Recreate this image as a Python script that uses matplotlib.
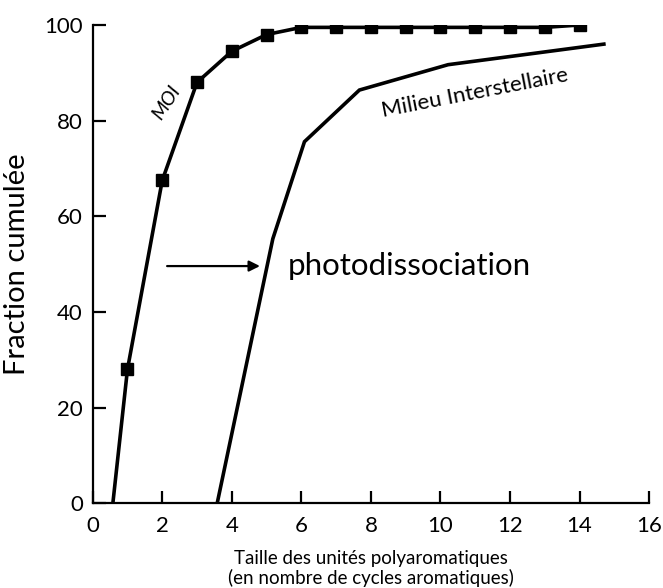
import matplotlib
matplotlib.use("Agg")
import matplotlib.pyplot as plt

plt.rcParams['font.family'] = ['Lato', 'DejaVu Sans']

# MOI series (with square markers)
moi_x = [0.58, 1, 2, 3, 4, 5, 6, 7, 8, 9, 10, 11, 12, 13, 14]
moi_y = [0, 28, 67.5, 88, 94.5, 98, 99.5, 99.5, 99.5, 99.5, 99.5, 99.5, 99.5, 99.5, 100]
moi_marked = [False] + [True] * 14

# Milieu Interstellaire series
ism_x = [3.58, 5.18, 6.09, 7.67, 10.22, 14.7]
ism_y = [0, 55.3, 75.6, 86.4, 91.7, 96]

xticks = [0, 2, 4, 6, 8, 10, 12, 14, 16]
yticks = [0, 20, 40, 60, 80, 100]

fig = plt.figure(figsize=(6.63, 5.88), dpi=100)
ax = fig.add_axes([0.1398, 0.144, 0.979 - 0.1398, 0.9575 - 0.144])

ax.plot(moi_x, moi_y, color='black', lw=2.6, solid_joinstyle='miter')
mx = [x for x, m in zip(moi_x, moi_marked) if m]
my = [y for y, m in zip(moi_y, moi_marked) if m]
ax.plot(mx, my, ls='none', marker='s', ms=9, color='black')
ax.plot(ism_x, ism_y, color='black', lw=2.6, solid_joinstyle='miter')

ax.set_xlim(0, 16)
ax.set_ylim(0, 100)
ax.set_xticks(xticks)
ax.set_yticks(yticks)
for s in ['top', 'right']:
    ax.spines[s].set_visible(False)
for s in ['left', 'bottom']:
    ax.spines[s].set_linewidth(1.6)
ax.tick_params(axis='both', direction='in', length=9, width=1.6, labelsize=16)
ax.tick_params(axis='y', pad=7)
ax.tick_params(axis='x', pad=9)

ax.set_ylabel('Fraction cumulée', fontsize=21, labelpad=10)
ax.set_xlabel('Taille des unités polyaromatiques\n(en nombre de cycles aromatiques)',
              fontsize=13.5, labelpad=10, linespacing=1.15)

ax.text(2.11, 83.8, 'MOI', rotation=57, fontsize=14, style='italic',
        ha='center', va='center', rotation_mode='anchor')
ax.text(10.99, 85.8, 'Milieu Interstellaire', rotation=11, fontsize=16,
        ha='center', va='center', rotation_mode='anchor')
ax.text(5.6, 49.6, 'photodissociation', fontsize=22.5, ha='left', va='center')
ax.annotate('', xy=(4.81, 49.6), xytext=(2.14, 49.6),
            arrowprops=dict(arrowstyle='-|>', color='black', lw=1.6,
                            mutation_scale=16, shrinkA=0, shrinkB=0))

fig.savefig('out.png', dpi=100)
